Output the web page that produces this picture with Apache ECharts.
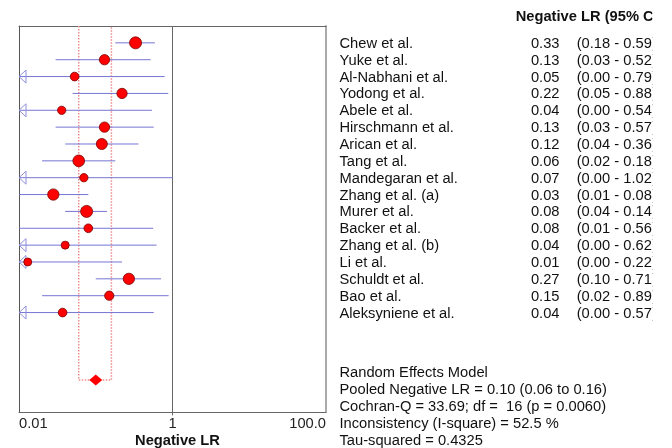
<!DOCTYPE html>
<html>
<head>
<meta charset="utf-8">
<script src="https://cdn.jsdelivr.net/npm/echarts@6/dist/echarts.min.js"></script>
<style>
html,body{margin:0;padding:0;background:#fff;}
#c{width:672px;height:448px;}
</style>
</head>
<body>
<div id="c"></div>
<script>
const studies = ["Chew et al.","Yuke et al.","Al-Nabhani et al.","Yodong et al.","Abele et al.","Hirschmann et al.","Arican et al.","Tang et al.","Mandegaran et al.","Zhang et al. (a)","Murer et al.","Backer et al.","Zhang et al. (b)","Li et al.","Schuldt et al.","Bao et al.","Aleksyniene et al."];
const est = [0.33,0.13,0.053,0.22,0.036,0.13,0.12,0.06,0.07,0.028,0.076,0.08,0.04,0.013,0.27,0.15,0.037];
const lo  = [0.18,0.03,0.00,0.05,0.00,0.03,0.04,0.02,0.00,0.01,0.04,0.01,0.00,0.00,0.10,0.02,0.00];
const hi  = [0.59,0.52,0.79,0.88,0.54,0.57,0.36,0.18,1.02,0.08,0.14,0.56,0.62,0.22,0.71,0.89,0.57];
const weight = [12,10.3,8.7,10.3,8.3,10.3,11,11.7,8.3,11.3,12,8.7,8,8,11.3,9.3,8.7];
const pooled = 0.10, pooledLo = 0.06, pooledHi = 0.16;
const pooledRow = 20;
const xTicks = {0.01:"0.01", 1:"1", 100:"100.0"};
const header = "Negative LR (95% CI)";
const stats = ["Random Effects Model","Pooled Negative LR = 0.10 (0.06 to 0.16)","Cochran-Q = 33.69; df =  16 (p = 0.0060)","Inconsistency (I-square) = 52.5 %","Tau-squared = 0.4325"];

const XMIN = 0.01, XMAX = 100;
const chart = echarts.init(document.getElementById('c'), null, {renderer:'canvas'});
const FONT = '"Liberation Sans", Arial, sans-serif';
const FS = 14.7;

const ciData = studies.map((s,i)=>[Math.max(lo[i], XMIN), hi[i], i, lo[i] < XMIN ? 1 : 0]);
const ptData = studies.map((s,i)=>({value:[est[i], i], symbolSize: weight[i]}));

chart.setOption({
  animation:false,
  grid:{left:19, right:346, top:26, bottom:36, outerBoundsMode:'none', containLabel:false},
  xAxis:[{
    type:'log', logBase:10, min:XMIN, max:XMAX, position:'bottom',
    axisLine:{show:true, onZero:false, lineStyle:{color:'#666', width:1}},
    axisTick:{show:false}, splitLine:{show:false},
    axisLabel:{
      margin:4, color:'#222', fontSize:FS, fontFamily:FONT,
      formatter:v=>{ for(const k in xTicks){ if(Math.abs(Math.log10(v)-Math.log10(+k))<1e-6) return xTicks[k]; } return ''; },
      alignMinLabel:'left', alignMaxLabel:'right'
    },
    name:'Negative LR', nameLocation:'middle', nameGap:21, nameMoveOverlap:false,
    nameTextStyle:{fontWeight:'bold', fontSize:FS, color:'#111', fontFamily:FONT, padding:[0,0,0,10]}
  },{
    type:'log', logBase:10, min:XMIN, max:XMAX, position:'top',
    axisLine:{show:true, onZero:false, lineStyle:{color:'#666', width:1}},
    axisTick:{show:false}, axisLabel:{show:false}, splitLine:{show:false}
  }],
  yAxis:[{
    type:'value', inverse:true, min:-1, max:21.9, position:'left',
    axisLine:{show:true, onZero:false, lineStyle:{color:'#555', width:1}},
    axisTick:{show:false}, axisLabel:{show:false}, splitLine:{show:false}
  },{
    type:'value', inverse:true, min:-1, max:21.9, position:'right',
    axisLine:{show:true, onZero:false, lineStyle:{color:'#aaa', width:2}},
    axisTick:{show:false}, axisLabel:{show:false}, splitLine:{show:false}
  }],
  series:[
    {
      type:'line', data:[[1,-1],[1,22.1]], symbol:'none', clip:false,
      lineStyle:{color:'#666', width:1}, z:1
    },
    {
      type:'line', data:[[pooledLo,-1],[pooledLo,pooledRow],[pooledHi,pooledRow],[pooledHi,-1]],
      symbol:'none', lineStyle:{color:'#ee8c8c', width:1.5, type:'dotted'}, z:2
    },
    {
      type:'custom', data:ciData, encode:{x:[0,1], y:2}, z:3,
      renderItem:(params, api)=>{
        const a = api.coord([api.value(0), api.value(2)]);
        const b = api.coord([api.value(1), api.value(2)]);
        const children = [{
          type:'line', shape:{x1:a[0], y1:a[1], x2:b[0], y2:b[1]},
          style:{stroke:'#7575d4', lineWidth:1}
        }];
        if(api.value(3) === 1){
          children.push({
            type:'polygon',
            shape:{points:[[a[0], a[1]],[a[0]+7, a[1]-6.5],[a[0]+7, a[1]+6.5]]},
            style:{fill:'rgba(255,255,255,0)', stroke:'#8f8fdc', lineWidth:1}
          });
        }
        return {type:'group', children};
      }
    },
    {
      type:'scatter', data:ptData, symbol:'circle', z:4,
      itemStyle:{color:'#ff0000', borderColor:'#700', borderWidth:0.8, opacity:1}
    },
    {
      type:'scatter', data:[[pooled, pooledRow]], symbol:'diamond', symbolSize:[13,11], z:5,
      itemStyle:{color:'#ff0000', opacity:1}
    }
  ]
});

const yPix = r => chart.convertToPixel({yAxisIndex:0}, r) + 1;
const txt = (text, x, y, align, bold) => ({
  type:'text', x, y,
  style:{text, fill:'#111', font:(bold?'bold ':'')+FS+'px '+FONT, textAlign:align, textVerticalAlign:'middle'}
});
const g = [];
g.push(txt(header, 515.7, yPix(-1.6), 'left', true));
studies.forEach((s,i)=>{
  const y = yPix(i);
  g.push(txt(s, 339.5, y, 'left'));
  g.push(txt(est[i].toFixed(2), 559.5, y, 'right'));
  g.push(txt('(' + lo[i].toFixed(2) + ' - ' + hi[i].toFixed(2) + ')', 576.7, y, 'left'));
});
stats.forEach((s,k)=>{ g.push(txt(s, 339.5, yPix(pooledRow - 0.45 + k), 'left')); });
// the original picture is cut off at its right edge
g.push({type:'rect', shape:{x:652.3, y:0, width:20, height:448}, style:{fill:'#fff'}, z:100});
chart.setOption({graphic:g});
</script>
</body>
</html>
